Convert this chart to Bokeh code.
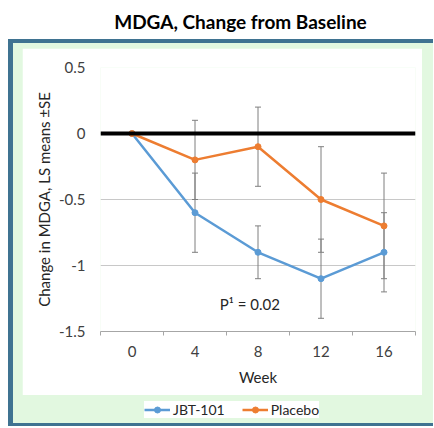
from bokeh.plotting import figure
from bokeh.layouts import column, row
from bokeh.models import (ColumnDataSource, Whisker, TeeHead, Span, Label, Div, Spacer,
                          FixedTicker, Legend, LegendItem, Range1d)
from bokeh.embed import file_html
from bokeh.resources import INLINE

# ---- data ----
weeks = ["0", "4", "8", "12", "16"]
jbt_mean = [0.0, -0.6, -0.9, -1.1, -0.9]
jbt_se = [0.0, 0.3, 0.2, 0.3, 0.3]
pla_mean = [0.0, -0.2, -0.1, -0.5, -0.7]
pla_se = [0.0, 0.3, 0.3, 0.4, 0.4]
y_ticks = [0.5, 0.0, -0.5, -1.0, -1.5]
y_tick_labels = ["0.5", "0", "-0.5", "-1", "-1.5"]
series_names = ["JBT-101", "Placebo"]
title_text = "MDGA, Change from Baseline"
p_text = "P\u00b9 = 0.02"

FONT = "Lato"
BLUE = "#5b9bd5"
ORANGE = "#ed7d31"
GREEN = "#e2f8e0"
DARK = "#3f7391"

xs = list(range(len(weeks)))

jbt = ColumnDataSource(dict(x=xs, y=jbt_mean,
                            lo=[m - s for m, s in zip(jbt_mean, jbt_se)],
                            hi=[m + s for m, s in zip(jbt_mean, jbt_se)]))
pla = ColumnDataSource(dict(x=xs, y=pla_mean,
                            lo=[m - s for m, s in zip(pla_mean, pla_se)],
                            hi=[m + s for m, s in zip(pla_mean, pla_se)]))

BL, BR = 78, 7

# ---- main chart (white inner area) ----
W, H = 400, 347
p = figure(width=W, height=H, output_backend="svg", toolbar_location=None,
           x_range=Range1d(-0.5, len(weeks) - 0.5), y_range=Range1d(min(y_ticks), max(y_ticks)),
           min_border_left=BL, min_border_right=BR, min_border_top=19, min_border_bottom=64)
p.outline_line_color = None
p.background_fill_color = "white"
p.border_fill_color = "white"

p.xgrid.grid_line_color = None
p.ygrid.grid_line_color = "#c8c8c8"
p.ygrid.grid_line_width = 1
p.ygrid.ticker = FixedTicker(ticks=y_ticks)

p.yaxis.ticker = FixedTicker(ticks=y_ticks)
p.yaxis.major_label_overrides = {t: l for t, l in zip(y_ticks, y_tick_labels)}
p.yaxis.axis_line_color = None
p.yaxis.major_tick_line_color = None
p.yaxis.minor_tick_line_color = None
p.yaxis.major_tick_out = 0
p.yaxis.major_label_standoff = 15
p.yaxis.axis_label = "Change in MDGA, LS means \u00b1SE"
p.yaxis.axis_label_standoff = 3
p.yaxis.axis_label_text_font = FONT
p.yaxis.axis_label_text_font_style = "normal"
p.yaxis.axis_label_text_font_size = "15px"
p.yaxis.axis_label_text_color = "#262626"
p.yaxis.major_label_text_font = FONT
p.yaxis.major_label_text_font_size = "15px"
p.yaxis.major_label_text_color = "#404040"

p.xaxis.ticker = FixedTicker(ticks=xs, minor_ticks=[i - 0.5 for i in range(len(weeks) + 1)])
p.xaxis.major_label_overrides = {i: w for i, w in zip(xs, weeks)}
p.xaxis.axis_line_color = "#a6a6a6"
p.xaxis.major_tick_line_color = None
p.xaxis.major_tick_out = 0
p.xaxis.minor_tick_line_color = "#a6a6a6"
p.xaxis.minor_tick_out = 4
p.xaxis.minor_tick_in = 0
p.xaxis.major_label_standoff = 10
p.xaxis.axis_label = "Week"
p.xaxis.axis_label_standoff = 8
p.xaxis.axis_label_text_font = FONT
p.xaxis.axis_label_text_font_style = "normal"
p.xaxis.axis_label_text_font_size = "15px"
p.xaxis.axis_label_text_color = "#262626"
p.xaxis.major_label_text_font = FONT
p.xaxis.major_label_text_font_size = "15px"
p.xaxis.major_label_text_color = "#404040"

p.add_layout(Span(location=0, dimension="width", line_color="black", line_width=4))

for src in (jbt, pla):
    p.add_layout(Whisker(source=src, base="x", lower="lo", upper="hi",
                         line_color="#7f7f7f", line_width=1,
                         upper_head=TeeHead(size=6, line_color="#7f7f7f", line_width=1),
                         lower_head=TeeHead(size=6, line_color="#7f7f7f", line_width=1)))

p.line("x", "y", source=jbt, line_color=BLUE, line_width=2.5)
p.scatter("x", "y", source=jbt, size=6, fill_color=BLUE, line_color=BLUE)
p.line("x", "y", source=pla, line_color=ORANGE, line_width=2.5)
p.scatter("x", "y", source=pla, size=6, fill_color=ORANGE, line_color=ORANGE)

p.add_layout(Label(x=1.87, y=-1.29, text=p_text, text_align="center", text_baseline="middle",
                   text_font=FONT, text_font_size="15px", text_color="#262626"))

# ---- legend strip (green band below the white area) ----
# the series are drawn here too, but outside this strip's visible range; only the legend shows
LH = 28
lg = figure(width=W, height=LH, output_backend="svg", toolbar_location=None,
            x_axis_location=None, y_axis_location=None,
            min_border_left=BL, min_border_right=BR, min_border_top=0, min_border_bottom=0,
            x_range=Range1d(100, 101), y_range=Range1d(100, 101))
lg.outline_line_color = None
lg.background_fill_color = GREEN
lg.border_fill_color = GREEN
lg.xgrid.visible = False
lg.ygrid.visible = False
items = []
for name, src, col in zip(series_names, (jbt, pla), (BLUE, ORANGE)):
    rl = lg.line("x", "y", source=src, line_color=col, line_width=2.5)
    rs = lg.scatter("x", "y", source=src, size=6, fill_color=col, line_color=col)
    items.append(LegendItem(label=name, renderers=[rl, rs]))
legend = Legend(items=items, orientation="horizontal", location=(44, 5),
                background_fill_color="white", background_fill_alpha=1,
                border_line_color=None, label_text_font=FONT, label_text_font_size="14px",
                label_text_color="#262626", glyph_width=26, glyph_height=15,
                label_standoff=3, spacing=17, padding=3, margin=0)
lg.add_layout(legend, "center")

# ---- frame (layout root sits at the page's top-left corner) ----
RG = 11  # green strip right of the white area
inner = column(Spacer(height=5, width=9 + W + RG),
               row(Spacer(width=9, height=H), p, Spacer(width=RG, height=H)),
               row(Spacer(width=9, height=LH), lg, Spacer(width=RG, height=LH)),
               styles={"background-color": GREEN})
outer = column(Spacer(height=4, width=5 + 9 + W + RG),
               row(Spacer(width=5, height=5 + H + LH), inner),
               Spacer(height=3, width=5 + 9 + W + RG),
               styles={"background-color": DARK})

title = Div(text=f'<div style="width:433px;box-sizing:border-box;padding-left:48px;'
                 f'text-align:center;font-family:{FONT};font-weight:bold;font-size:19px;'
                 f'line-height:23px;color:black;padding-top:10px">{title_text}</div>',
            width=433, height=39, margin=0)

page = column(title, row(Spacer(width=8, height=4 + 5 + H + LH + 3), outer))
open("out.html", "w").write(file_html(page, INLINE))
